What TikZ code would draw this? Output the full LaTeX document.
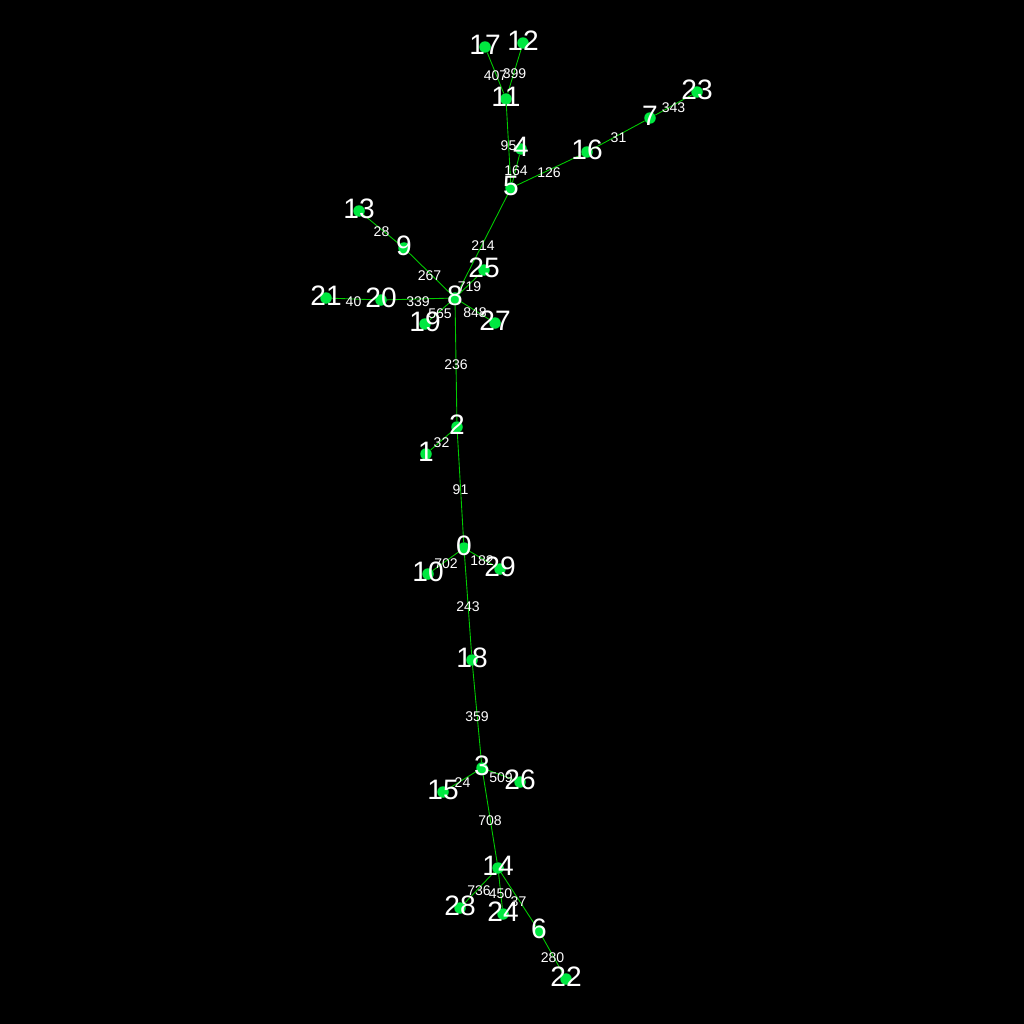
\documentclass[tikz,border=0pt]{standalone}
\usepackage{fontspec}
\setmainfont{Liberation Sans}
\definecolor{vgreen}{RGB}{0,232,64}
\definecolor{egreen}{RGB}{0,205,0}

\begin{document}
\begin{tikzpicture}[x=0.02cm, y=-0.02cm,
    vtx/.style={circle, fill=vgreen, inner sep=0pt, minimum size=0.23cm},
    vlbl/.style={text=white, font=\fontsize{16}{16}\selectfont, inner sep=0pt, yshift=0.05cm},
    edge/.style={draw=egreen, line width=0.5pt},
    wlbl/.style={midway, text=white, font=\fontsize{8}{8}\selectfont, inner sep=0pt, yshift=-0.05cm}]
  \fill[black] (0,0) rectangle (1024,1024);
  \useasboundingbox (0,0) rectangle (1024,1024);
  % vertices
  \foreach \i/\x/\y in {17/485/47, 12/523/43, 11/506/99, 4/521/149, 5/511/188,
      16/587/152, 7/650/118, 23/697/92, 13/359/211, 9/404/248, 25/484/270,
      8/455/298, 21/326/298, 20/381/300, 19/425/324, 27/495/323, 2/457/427,
      1/426/454, 0/464/548, 10/428/574, 29/500/569, 18/472/660, 3/482/768,
      15/443/792, 26/520/782, 14/498/868, 28/460/908, 24/503/914, 6/539/931,
      22/566/979}
    \node[vtx] (n\i) at (\x,\y) {};
  % weighted edges
  \foreach \a/\b/\w in {11/17/407, 11/12/399, 5/11/95, 5/4/164, 5/16/126,
      16/7/31, 7/23/343, 8/5/214, 8/25/719, 8/9/267, 9/13/28, 8/20/339,
      20/21/40, 8/19/565, 8/27/848, 8/2/236, 2/1/32, 2/0/91, 0/10/702,
      0/29/182, 0/18/243, 18/3/359, 3/15/24, 3/26/509, 3/14/708,
      14/28/736, 14/24/450, 14/6/37, 6/22/280}
    \draw[edge] (n\a) -- node[wlbl] {\w} (n\b);
  % vertex labels
  \foreach \i in {0,...,29}
    \node[vlbl] at (n\i) {\i};
\end{tikzpicture}
\end{document}
